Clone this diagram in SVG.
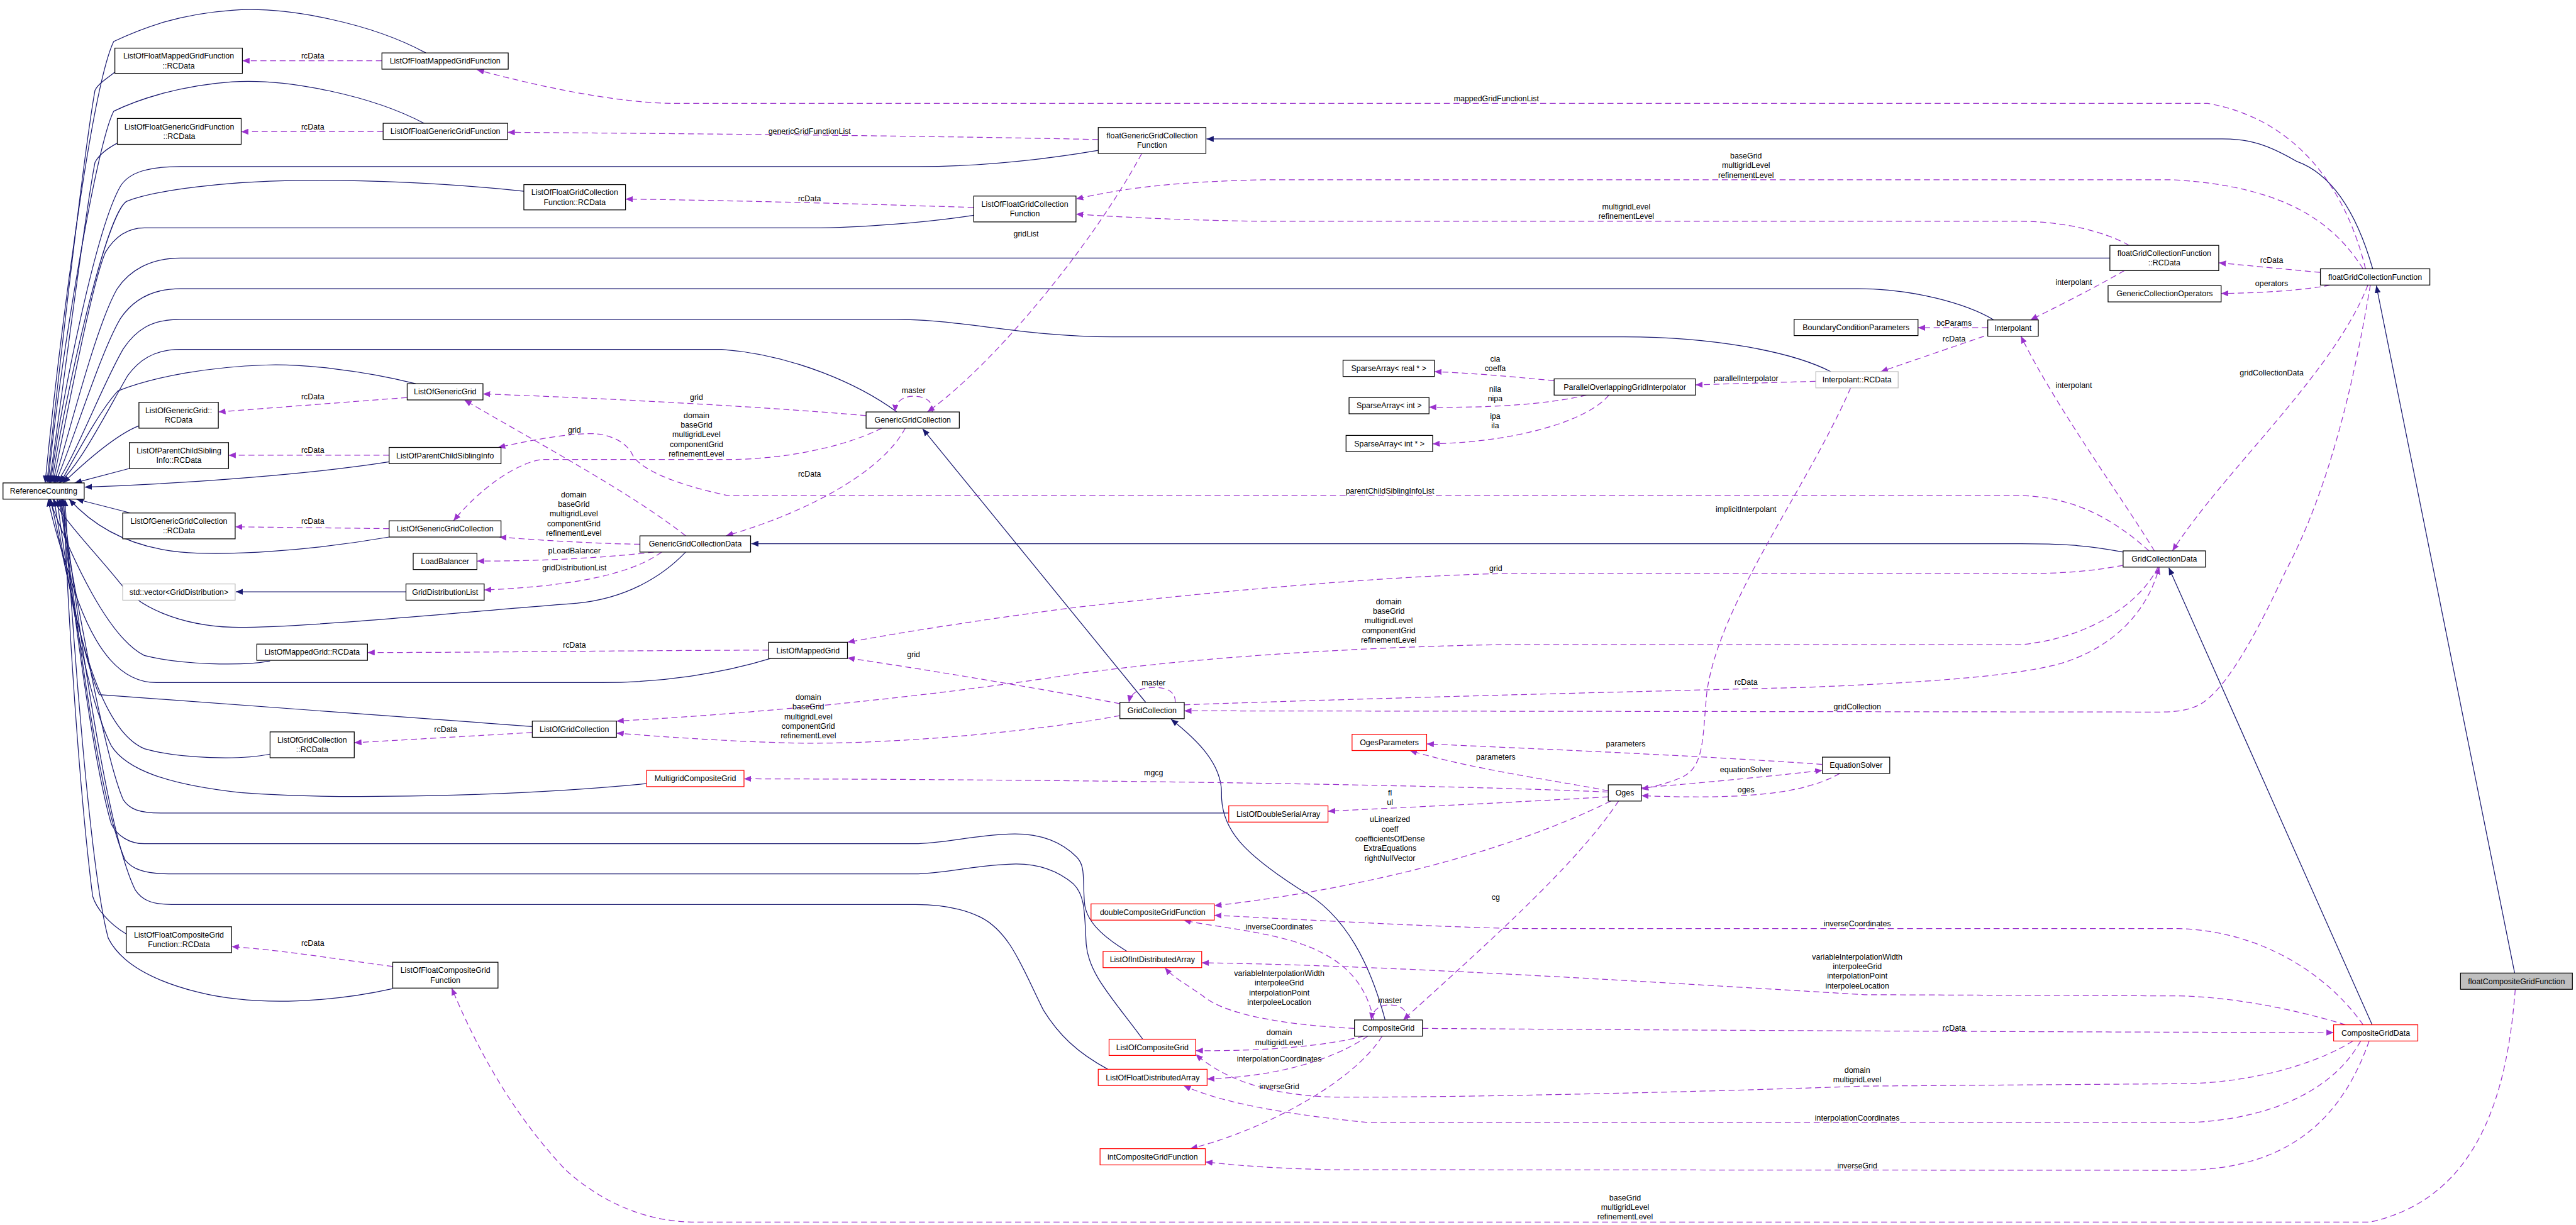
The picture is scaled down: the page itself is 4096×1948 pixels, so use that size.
<svg xmlns="http://www.w3.org/2000/svg" width="4096" height="1948" viewBox="0 0 4096 1948">
<defs>
<style>
text{font-family:"Liberation Sans",Arial,sans-serif;font-size:13px;fill:#000;text-anchor:middle}
.n rect{fill:#fff;stroke:#000;stroke-width:1.3}
.n.r rect{stroke:#ff0000}
.n.g rect{stroke:#bfbfbf}
.n.root rect{fill:#bfbfbf}
#connectors path{fill:none;stroke-width:1.3}
#connectors .i{stroke:#191970;marker-end:url(#ah)}
#connectors .u{stroke:#9a32cd;stroke-dasharray:10,6;marker-end:url(#ap)}
</style>
<marker id="ah" viewBox="0 0 12 10" refX="12" refY="5" markerWidth="12" markerHeight="10" markerUnits="userSpaceOnUse" orient="auto"><path d="M0,0 L12,5 L0,10 z" fill="#191970"/></marker>
<marker id="ap" viewBox="0 0 12 10" refX="12" refY="5" markerWidth="12" markerHeight="10" markerUnits="userSpaceOnUse" orient="auto"><path d="M0,0 L12,5 L0,10 z" fill="#9a32cd"/></marker>
</defs>
<rect x="0" y="0" width="4096" height="1948" fill="#fff"/>
<g transform="scale(0.95634)">
<g id="connectors">
<!-- inheritance to ReferenceCounting -->
<path class="i" d="M708,88 C620,40 480,10 386,17 C300,23 240,45 189,69 C150,150 95,600 75,803"/>
<path class="i" d="M191,120 C175,132 163,140 158,150 C140,250 100,600 78,803"/>
<path class="i" d="M705,205 C620,160 480,130 386,136 C300,142 230,165 189,185 C160,240 100,600 80,803"/>
<path class="i" d="M195,238 C180,246 165,256 158,270 C140,360 105,650 82,803"/>
<path class="i" d="M1826,250 C1720,268 1620,277 1526,277 L300,277 C250,277 215,285 200,310 C160,380 105,650 84,803"/>
<path class="i" d="M871,318 C750,305 600,298 491,300 C380,302 260,315 210,335 C175,360 110,650 86,803"/>
<path class="i" d="M1619,358 C1540,370 1430,379 1350,379 L240,379 C210,379 190,395 175,420 C150,480 110,700 88,803"/>
<path class="i" d="M3508,429 L300,429 C250,429 215,450 195,480 C160,540 115,720 90,803"/>
<path class="i" d="M3315,532 C3270,505 3180,480 3090,480 L300,480 C250,480 220,500 200,530 C165,590 120,740 92,803"/>
<path class="i" d="M3044,618 C2980,585 2850,560 2700,560 L1850,560 C1700,560 1600,531 1490,531 L300,531 C250,531 225,550 205,580 C170,640 125,760 94,803"/>
<path class="i" d="M1491,685 C1430,640 1320,590 1200,581 L300,581 C255,581 230,600 212,625 C180,680 130,780 97,803"/>
<path class="i" d="M691,638 C600,615 500,605 442,607 C350,610 260,625 196,650 C160,690 120,770 100,803"/>
<path class="i" d="M231,708 C195,722 150,760 105,803"/>
<path class="i" d="M215,779 L124,803"/>
<path class="i" d="M647,768 C520,788 330,803 141,810"/>
<path class="i" d="M217,853 L127,830"/>
<path class="i" d="M647,893 C520,915 380,925 300,918 C220,910 160,880 115,830"/>
<path class="i" d="M1140,918 C1100,960 1040,995 960,1003 C800,1015 500,1045 386,1043 C300,1040 230,1010 200,970 C160,920 110,870 88,830"/>
<path class="i" d="M449,1099 C400,1108 300,1105 240,1090 C180,1060 120,930 82,830"/>
<path class="i" d="M1281,1095 C1200,1120 1100,1135 1000,1135 L260,1135 C200,1135 160,1080 130,1000 C110,940 90,880 80,830"/>
<path class="i" d="M885,1208 L165,1155 C140,1100 110,950 84,830"/>
<path class="i" d="M449,1254 C400,1264 300,1262 240,1245 C180,1220 130,1100 90,830"/>
<path class="i" d="M1075,1303 C850,1325 550,1330 400,1318 C280,1305 210,1280 185,1240 C140,1150 110,950 95,830"/>
<path class="i" d="M2043,1352 L270,1352 C230,1352 215,1345 205,1330 C170,1250 120,950 98,830"/>
<path class="i" d="M1874,1582 C1830,1555 1805,1530 1803,1500 C1800,1460 1805,1440 1790,1425 C1760,1395 1720,1385 1677,1387 C1610,1390 1570,1403 1520,1403 L240,1403 C215,1403 195,1390 185,1370 C150,1250 115,950 100,830"/>
<path class="i" d="M1900,1728 C1850,1660 1810,1620 1806,1570 C1803,1520 1805,1490 1785,1470 C1750,1440 1710,1435 1677,1437 C1610,1440 1570,1453 1520,1453 L280,1453 C240,1453 220,1445 208,1430 C160,1320 120,980 102,830"/>
<path class="i" d="M1842,1778 C1790,1750 1760,1720 1735,1680 C1700,1610 1680,1550 1630,1525 C1600,1510 1560,1504 1522,1504 L285,1504 C250,1504 235,1495 225,1480 C175,1380 125,1000 104,830"/>
<path class="i" d="M210,1553 C180,1535 160,1510 154,1490 C130,1300 112,1000 106,830"/>
<path class="i" d="M653,1644 C560,1665 430,1675 330,1650 C250,1630 200,1600 180,1560 C150,1450 120,1050 108,830"/>
<!-- other inheritance -->
<path class="i" d="M675,984 L392,984"/>
<path class="i" d="M3530,918 C3470,906 3420,904 3360,904 L1249,904"/>
<path class="i" d="M1905,1168 L1534,713"/>
<path class="i" d="M2303,1696 C2280,1610 2240,1520 2160,1478 C2070,1420 2030,1380 2031,1320 C2032,1270 1990,1230 1947,1196"/>
<path class="i" d="M3944,1704 L3606,944"/>
<path class="i" d="M4181,1618 L3951,475"/>
<path class="i" d="M3945,447 C3920,360 3880,290 3818,268 C3770,240 3740,231 3695,231 L2006,231"/>
<!-- usage -->
<path class="u" d="M635,101 L403,101"/>
<path class="u" d="M637,219 L401,219"/>
<path class="u" d="M1619,345 C1400,338 1200,333 1040,331"/>
<path class="u" d="M3933,447 C3905,330 3830,200 3671,172 L1126,172 C1030,172 900,145 793,116"/>
<path class="u" d="M1826,232 C1500,225 1100,222 844,220"/>
<path class="u" d="M3929,447 C3880,370 3800,310 3614,299 L2100,299 C1960,302 1870,312 1789,331"/>
<path class="u" d="M3540,408 C3500,385 3430,368 3360,368 L2100,368 C1960,366 1860,361 1789,356"/>
<path class="u" d="M1898,256 C1820,400 1660,600 1542,685"/>
<path class="u" d="M1550,685 C1552,668 1540,659 1519,659 C1500,659 1489,668 1488,685"/>
<path class="u" d="M3858,453 L3689,437"/>
<path class="u" d="M3874,474 C3830,483 3760,487 3693,488"/>
<path class="u" d="M3532,450 C3480,480 3420,510 3376,532"/>
<path class="u" d="M3305,545 L3189,545"/>
<path class="u" d="M3299,559 L3127,618"/>
<path class="u" d="M3582,916 C3530,830 3420,680 3360,559"/>
<path class="u" d="M3937,474 C3880,620 3700,780 3612,916"/>
<path class="u" d="M2584,633 C2500,625 2440,620 2385,618"/>
<path class="u" d="M2638,657 C2560,675 2460,678 2376,677"/>
<path class="u" d="M2675,657 C2640,700 2520,735 2382,738"/>
<path class="u" d="M3019,634 L2819,640"/>
<path class="u" d="M3077,645 C3000,820 2860,1000 2838,1150 C2830,1230 2835,1280 2790,1295 C2770,1303 2750,1308 2729,1312"/>
<path class="u" d="M3573,916 C3500,850 3430,824 3352,824 L1210,824 C1120,805 1065,780 1052,757 C1045,740 1020,721 982,721 C930,722 870,735 828,744"/>
<path class="u" d="M1440,691 C1250,675 1000,662 803,655"/>
<path class="u" d="M1140,891 C1050,820 900,740 772,665"/>
<path class="u" d="M1466,712 C1400,745 1300,764 1210,764 L900,764 C860,770 800,810 754,866"/>
<path class="u" d="M1064,905 C1000,904 920,900 830,893"/>
<path class="u" d="M1087,918 C1000,928 900,933 793,933"/>
<path class="u" d="M1100,918 C1050,955 950,975 805,981"/>
<path class="u" d="M677,661 L363,685"/>
<path class="u" d="M647,757 L380,757"/>
<path class="u" d="M647,879 L391,876"/>
<path class="u" d="M1278,1081 C1000,1082 800,1085 611,1085"/>
<path class="u" d="M885,1218 L589,1235"/>
<path class="u" d="M1505,712 C1470,780 1350,850 1207,891"/>
<path class="u" d="M3530,940 C3480,950 3420,954 3360,954 L2491,954 C2300,958 2000,985 1772,1012 C1600,1035 1480,1055 1409,1068"/>
<path class="u" d="M1862,1170 C1700,1140 1550,1115 1409,1094"/>
<path class="u" d="M3588,943 C3560,1000 3480,1060 3360,1072 L2491,1072 C2300,1075 2000,1090 1772,1123 C1500,1165 1200,1190 1025,1199"/>
<path class="u" d="M1862,1190 C1700,1220 1450,1240 1300,1235 C1200,1232 1100,1225 1025,1219"/>
<path class="u" d="M1954,1168 C1955,1150 1940,1143 1919,1143 C1895,1143 1880,1152 1877,1168"/>
<path class="u" d="M1969,1172 C2300,1160 2800,1148 3000,1143 C3200,1135 3340,1125 3420,1105 C3510,1080 3570,1020 3590,943"/>
<path class="u" d="M3941,474 C3920,600 3880,800 3800,950 C3740,1080 3690,1160 3650,1175 C3630,1183 3610,1184 3590,1184 L1969,1182"/>
<path class="u" d="M2674,1315 C2600,1300 2450,1280 2344,1248"/>
<path class="u" d="M3030,1271 C2800,1255 2550,1245 2372,1237"/>
<path class="u" d="M2729,1310 C2850,1300 2950,1290 3030,1281"/>
<path class="u" d="M3059,1286 C3000,1320 2900,1330 2729,1323"/>
<path class="u" d="M2674,1317 C2400,1305 1800,1296 1237,1295"/>
<path class="u" d="M2674,1325 C2500,1335 2350,1342 2208,1349"/>
<path class="u" d="M2678,1332 C2500,1420 2250,1480 2019,1506"/>
<path class="u" d="M2691,1332 C2620,1440 2460,1580 2333,1696"/>
<path class="u" d="M2340,1696 C2340,1680 2330,1671 2311,1671 C2292,1671 2282,1680 2280,1696"/>
<path class="u" d="M2284,1696 C2270,1630 2230,1590 2150,1565 C2080,1545 2010,1540 1968,1530"/>
<path class="u" d="M3929,1704 C3870,1620 3760,1548 3622,1544 L2519,1544 C2350,1540 2150,1528 2019,1522"/>
<path class="u" d="M2252,1710 C2150,1705 2040,1690 2000,1656 C1970,1635 1950,1625 1937,1609"/>
<path class="u" d="M3900,1704 C3820,1680 3720,1658 3622,1656 L3100,1654 C2700,1630 2300,1605 1998,1601"/>
<path class="u" d="M2365,1710 C2800,1713 3400,1716 3880,1717"/>
<path class="u" d="M2267,1723 C2200,1740 2100,1748 1988,1747"/>
<path class="u" d="M3912,1731 C3850,1770 3740,1802 3622,1802 L3100,1806 C2700,1820 2300,1826 2210,1824 C2100,1820 2030,1790 1988,1753"/>
<path class="u" d="M2274,1723 C2220,1760 2130,1790 2007,1794"/>
<path class="u" d="M3925,1731 C3870,1830 3740,1866 3622,1867 L2281,1867 C2100,1850 2010,1825 1968,1805"/>
<path class="u" d="M2298,1723 C2250,1800 2100,1880 1979,1910"/>
<path class="u" d="M3939,1731 C3880,1900 3760,1946 3622,1946 L2210,1945 C2100,1942 2050,1937 2004,1932"/>
<path class="u" d="M4182,1645 C4170,1800 4130,1990 3941,2032 L1150,2032 C1060,2030 990,1990 940,1945 C860,1860 800,1760 751,1643"/>
<path class="u" d="M653,1607 C560,1595 470,1580 385,1574"/>
<!-- labels -->
<text x="520" y="97.5">rcData</text>
<text x="520" y="215">rcData</text>
<text x="2488" y="168">mappedGridFunctionList</text>
<text x="1346" y="223">genericGridFunctionList</text>
<text x="1346" y="335">rcData</text>
<text x="2903" y="263.5">baseGrid</text>
<text x="2903" y="279.5">multigridLevel</text>
<text x="2903" y="295.5">refinementLevel</text>
<text x="2704" y="348">multigridLevel</text>
<text x="2704" y="364">refinementLevel</text>
<text x="1706" y="393">gridList</text>
<text x="1519" y="654">master</text>
<text x="3777" y="437">rcData</text>
<text x="3777" y="476">operators</text>
<text x="3448" y="473.5">interpolant</text>
<text x="3249" y="541.5">bcParams</text>
<text x="3249" y="567.5">rcData</text>
<text x="2486" y="601">cia</text>
<text x="2486" y="617">coeffa</text>
<text x="2903" y="633.5">parallelInterpolator</text>
<text x="2486" y="651">nila</text>
<text x="2486" y="667">nipa</text>
<text x="3448" y="645.5">interpolant</text>
<text x="3777" y="624.5">gridCollectionData</text>
<text x="2486" y="696.5">ipa</text>
<text x="2486" y="712.5">ila</text>
<text x="1158" y="665">grid</text>
<text x="1158" y="695">domain</text>
<text x="1158" y="711">baseGrid</text>
<text x="1158" y="727">multigridLevel</text>
<text x="1158" y="743">componentGrid</text>
<text x="1158" y="759">refinementLevel</text>
<text x="520" y="663.5">rcData</text>
<text x="955" y="719.5">grid</text>
<text x="520" y="753">rcData</text>
<text x="2311" y="820.5">parentChildSiblingInfoList</text>
<text x="2903" y="851.5">implicitInterpolant</text>
<text x="1346" y="793">rcData</text>
<text x="954" y="827">domain</text>
<text x="954" y="843">baseGrid</text>
<text x="954" y="859">multigridLevel</text>
<text x="954" y="875">componentGrid</text>
<text x="954" y="891">refinementLevel</text>
<text x="520" y="871.5">rcData</text>
<text x="955" y="920.5">pLoadBalancer</text>
<text x="955" y="948">gridDistributionList</text>
<text x="2487" y="949.5">grid</text>
<text x="2309" y="1004.5">domain</text>
<text x="2309" y="1020.5">baseGrid</text>
<text x="2309" y="1036.5">multigridLevel</text>
<text x="2309" y="1052.5">componentGrid</text>
<text x="2309" y="1068.5">refinementLevel</text>
<text x="955" y="1077">rcData</text>
<text x="1519" y="1092.5">grid</text>
<text x="1918" y="1140">master</text>
<text x="2903" y="1139">rcData</text>
<text x="1344" y="1164">domain</text>
<text x="1344" y="1180">baseGrid</text>
<text x="1344" y="1196">multigridLevel</text>
<text x="1344" y="1212">componentGrid</text>
<text x="1344" y="1228">refinementLevel</text>
<text x="3088" y="1180">gridCollection</text>
<text x="741" y="1217.5">rcData</text>
<text x="2703" y="1241">parameters</text>
<text x="2487" y="1263">parameters</text>
<text x="2903" y="1284.5">equationSolver</text>
<text x="1918" y="1289.5">mgcg</text>
<text x="2903" y="1317.5">oges</text>
<text x="2311" y="1322.5">fl</text>
<text x="2311" y="1338.5">ul</text>
<text x="2311" y="1367">uLinearized</text>
<text x="2311" y="1383">coeff</text>
<text x="2311" y="1399">coefficientsOfDense</text>
<text x="2311" y="1415">ExtraEquations</text>
<text x="2311" y="1431">rightNullVector</text>
<text x="2487" y="1496">cg</text>
<text x="2127" y="1545.5">inverseCoordinates</text>
<text x="3088" y="1540.5">inverseCoordinates</text>
<text x="520" y="1572.5">rcData</text>
<text x="2127" y="1623">variableInterpolationWidth</text>
<text x="2127" y="1639">interpoleeGrid</text>
<text x="2127" y="1655">interpolationPoint</text>
<text x="2127" y="1671">interpoleeLocation</text>
<text x="3088" y="1595.5">variableInterpolationWidth</text>
<text x="3088" y="1611.5">interpoleeGrid</text>
<text x="3088" y="1627.5">interpolationPoint</text>
<text x="3088" y="1643.5">interpoleeLocation</text>
<text x="2311" y="1668">master</text>
<text x="3249" y="1713.5">rcData</text>
<text x="2127" y="1721.5">domain</text>
<text x="2127" y="1737.5">multigridLevel</text>
<text x="3088" y="1783.5">domain</text>
<text x="3088" y="1799.5">multigridLevel</text>
<text x="2127" y="1765.5">interpolationCoordinates</text>
<text x="3088" y="1863">interpolationCoordinates</text>
<text x="2127" y="1811">inverseGrid</text>
<text x="3088" y="1943">inverseGrid</text>
<text x="2702" y="1996">baseGrid</text>
<text x="2702" y="2012">multigridLevel</text>
<text x="2702" y="2028">refinementLevel</text>
</g>
<g id="nodes">
<g id="lofmgf_rc" class="n"><rect x="191" y="80" width="212" height="42"/><text x="297" y="97.5">ListOfFloatMappedGridFunction</text><text x="297" y="113.5">::RCData</text></g>
<g id="lofmgf" class="n"><rect x="635" y="88" width="210" height="27"/><text x="740" y="106">ListOfFloatMappedGridFunction</text></g>
<g id="lofggf_rc" class="n"><rect x="195" y="197" width="206" height="43"/><text x="298" y="215">ListOfFloatGenericGridFunction</text><text x="298" y="231">::RCData</text></g>
<g id="lofggf" class="n"><rect x="637" y="205" width="207" height="27"/><text x="740.5" y="223">ListOfFloatGenericGridFunction</text></g>
<g id="lofgcf_rc" class="n"><rect x="871" y="307" width="169" height="42"/><text x="955.5" y="324.5">ListOfFloatGridCollection</text><text x="955.5" y="340.5">Function::RCData</text></g>
<g id="fggcf" class="n"><rect x="1826" y="212" width="179" height="43"/><text x="1915.5" y="230">floatGenericGridCollection</text><text x="1915.5" y="246">Function</text></g>
<g id="lofgcf" class="n"><rect x="1619" y="326" width="170" height="43"/><text x="1704" y="344">ListOfFloatGridCollection</text><text x="1704" y="360">Function</text></g>
<g id="fgcf_rc" class="n"><rect x="3508" y="408" width="181" height="42"/><text x="3598.5" y="425.5">floatGridCollectionFunction</text><text x="3598.5" y="441.5">::RCData</text></g>
<g id="gco" class="n"><rect x="3505" y="475" width="188" height="27"/><text x="3599" y="493">GenericCollectionOperators</text></g>
<g id="fgcf" class="n"><rect x="3858" y="447" width="182" height="27"/><text x="3949" y="465">floatGridCollectionFunction</text></g>
<g id="bcp" class="n"><rect x="2983" y="531" width="206" height="27"/><text x="3086" y="549">BoundaryConditionParameters</text></g>
<g id="interp" class="n"><rect x="3305" y="532" width="84" height="27"/><text x="3347" y="550">Interpolant</text></g>
<g id="interp_rc" class="n g"><rect x="3019" y="618" width="137" height="27"/><text x="3087.5" y="636">Interpolant::RCData</text></g>
<g id="sa_real" class="n"><rect x="2233" y="599" width="152" height="27"/><text x="2309" y="617">SparseArray&lt; real * &gt;</text></g>
<g id="pogi" class="n"><rect x="2584" y="630" width="235" height="27"/><text x="2701.5" y="648">ParallelOverlappingGridInterpolator</text></g>
<g id="sa_int" class="n"><rect x="2243" y="661" width="133" height="27"/><text x="2309.5" y="679">SparseArray&lt; int &gt;</text></g>
<g id="sa_intp" class="n"><rect x="2238" y="724" width="144" height="27"/><text x="2310" y="742">SparseArray&lt; int * &gt;</text></g>
<g id="logg" class="n"><rect x="677" y="638" width="126" height="27"/><text x="740" y="656">ListOfGenericGrid</text></g>
<g id="logg_rc" class="n"><rect x="231" y="669" width="132" height="43"/><text x="297" y="687">ListOfGenericGrid::</text><text x="297" y="703">RCData</text></g>
<g id="ggc" class="n"><rect x="1440" y="685" width="155" height="27"/><text x="1517.5" y="703">GenericGridCollection</text></g>
<g id="lopcsi_rc" class="n"><rect x="215" y="736" width="165" height="43"/><text x="297.5" y="754">ListOfParentChildSibling</text><text x="297.5" y="770">Info::RCData</text></g>
<g id="lopcsi" class="n"><rect x="647" y="744" width="186" height="27"/><text x="740" y="762">ListOfParentChildSiblingInfo</text></g>
<g id="rc" class="n"><rect x="5" y="803" width="135" height="27"/><text x="72.5" y="821">ReferenceCounting</text></g>
<g id="loggc_rc" class="n"><rect x="204" y="853" width="187" height="43"/><text x="297.5" y="871">ListOfGenericGridCollection</text><text x="297.5" y="887">::RCData</text></g>
<g id="loggc" class="n"><rect x="647" y="866" width="186" height="27"/><text x="740" y="884">ListOfGenericGridCollection</text></g>
<g id="ggcd" class="n"><rect x="1064" y="891" width="184" height="27"/><text x="1156" y="909">GenericGridCollectionData</text></g>
<g id="lb" class="n"><rect x="687" y="920" width="106" height="27"/><text x="740" y="938">LoadBalancer</text></g>
<g id="stdvec" class="n g"><rect x="204" y="971" width="187" height="27"/><text x="297.5" y="989">std::vector&lt;GridDistribution&gt;</text></g>
<g id="gdl" class="n"><rect x="675" y="971" width="130" height="27"/><text x="740" y="989">GridDistributionList</text></g>
<g id="gcd" class="n"><rect x="3530" y="916" width="137" height="27"/><text x="3598.5" y="934">GridCollectionData</text></g>
<g id="lomg_rc" class="n"><rect x="427" y="1071" width="184" height="27"/><text x="519" y="1089">ListOfMappedGrid::RCData</text></g>
<g id="lomg" class="n"><rect x="1278" y="1068" width="131" height="27"/><text x="1343.5" y="1086">ListOfMappedGrid</text></g>
<g id="gc" class="n"><rect x="1862" y="1168" width="107" height="27"/><text x="1915.5" y="1186">GridCollection</text></g>
<g id="logc" class="n"><rect x="885" y="1199" width="140" height="27"/><text x="955" y="1217">ListOfGridCollection</text></g>
<g id="logc_rc" class="n"><rect x="449" y="1217" width="140" height="43"/><text x="519" y="1235">ListOfGridCollection</text><text x="519" y="1251">::RCData</text></g>
<g id="op" class="n r"><rect x="2248" y="1221" width="124" height="27"/><text x="2310" y="1239">OgesParameters</text></g>
<g id="es" class="n"><rect x="3030" y="1259" width="112" height="27"/><text x="3086" y="1277">EquationSolver</text></g>
<g id="mcg" class="n r"><rect x="1075" y="1281" width="162" height="27"/><text x="1156" y="1299">MultigridCompositeGrid</text></g>
<g id="oges" class="n"><rect x="2674" y="1305" width="55" height="27"/><text x="2701.5" y="1323">Oges</text></g>
<g id="lodsa" class="n r"><rect x="2043" y="1340" width="165" height="27"/><text x="2125.5" y="1358">ListOfDoubleSerialArray</text></g>
<g id="dcgf" class="n r"><rect x="1814" y="1503" width="205" height="27"/><text x="1916.5" y="1521">doubleCompositeGridFunction</text></g>
<g id="lofcgf_rc" class="n"><rect x="210" y="1541" width="175" height="43"/><text x="297.5" y="1559">ListOfFloatCompositeGrid</text><text x="297.5" y="1575">Function::RCData</text></g>
<g id="loida" class="n r"><rect x="1834" y="1582" width="164" height="27"/><text x="1916" y="1600">ListOfIntDistributedArray</text></g>
<g id="lofcgf" class="n"><rect x="653" y="1600" width="175" height="43"/><text x="740.5" y="1618">ListOfFloatCompositeGrid</text><text x="740.5" y="1634">Function</text></g>
<g id="fcgf" class="n root"><rect x="4091" y="1618" width="186" height="27"/><text x="4184" y="1636">floatCompositeGridFunction</text></g>
<g id="cg" class="n"><rect x="2252" y="1696" width="113" height="27"/><text x="2308.5" y="1714">CompositeGrid</text></g>
<g id="cgd" class="n r"><rect x="3880" y="1704" width="140" height="27"/><text x="3950" y="1722">CompositeGridData</text></g>
<g id="locg" class="n r"><rect x="1844" y="1728" width="144" height="27"/><text x="1916" y="1746">ListOfCompositeGrid</text></g>
<g id="lofda" class="n r"><rect x="1826" y="1778" width="181" height="27"/><text x="1916.5" y="1796">ListOfFloatDistributedArray</text></g>
<g id="icgf" class="n r"><rect x="1829" y="1910" width="175" height="27"/><text x="1916.5" y="1928">intCompositeGridFunction</text></g>
</g>
</g>
</svg>
